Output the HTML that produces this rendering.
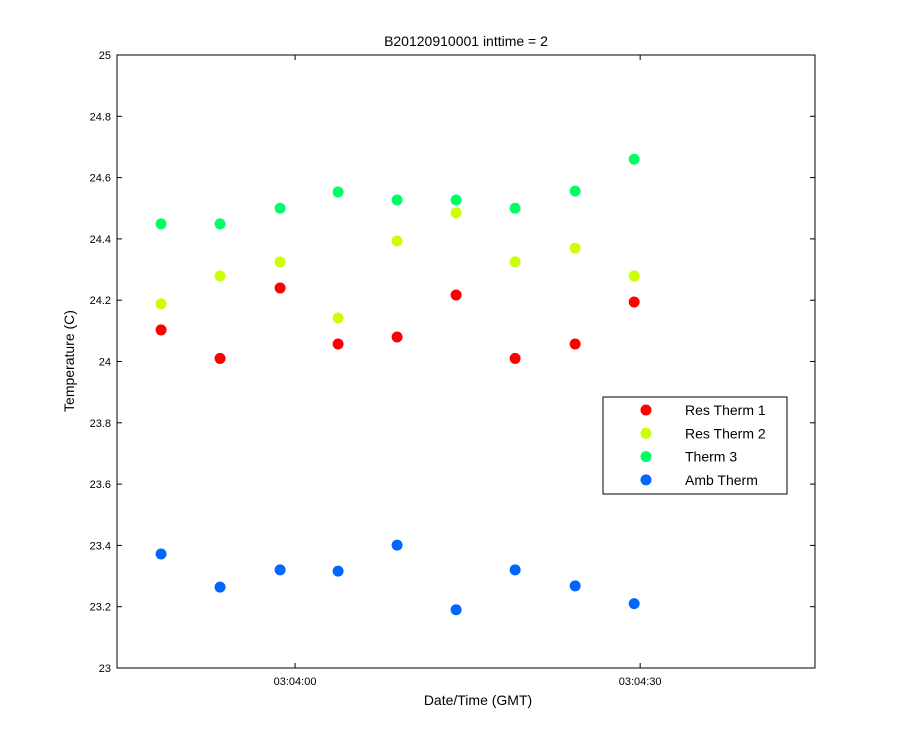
<!DOCTYPE html>
<html><head><meta charset="utf-8"><style>
body{margin:0;background:#fff;}
svg{display:block;font-family:"Liberation Sans",Arial,sans-serif;}
</style></head><body>
<svg id="chart" width="900" height="750" viewBox="0 0 900 750">
<rect x="0" y="0" width="900" height="750" fill="#fff"/>
</svg>
<script>
const times = [-11.65, -6.52, -1.3, 3.74, 8.87, 14.0, 19.13, 24.35, 29.48];
const resTherm1 = [24.103, 24.01, 24.24, 24.057, 24.08, 24.217, 24.01, 24.057, 24.194];
const resTherm2 = [24.188, 24.279, 24.325, 24.142, 24.393, 24.485, 24.325, 24.37, 24.279];
const therm3 = [24.449, 24.449, 24.50, 24.553, 24.527, 24.527, 24.50, 24.556, 24.66];
const ambTherm = [23.372, 23.264, 23.32, 23.316, 23.401, 23.19, 23.32, 23.268, 23.21];
const yTicks = [23, 23.2, 23.4, 23.6, 23.8, 24, 24.2, 24.4, 24.6, 24.8, 25];
const yTickLabels = ["23","23.2","23.4","23.6","23.8","24","24.2","24.4","24.6","24.8","25"];
const xTicks = [0, 30];
const xTickLabels = ["03:04:00","03:04:30"];
const seriesNames = ["Res Therm 1","Res Therm 2","Therm 3","Amb Therm"];

const svg = document.getElementById('chart');
const NS = 'http://www.w3.org/2000/svg';
const L=117,R=815,T=55,B=668, xMin=-15.48,xMax=45.2,yMin=23,yMax=25;
const xs = t => L + (t-xMin)/(xMax-xMin)*(R-L);
const ys = v => B - (v-yMin)/(yMax-yMin)*(B-T);
function mk(tag, attrs, text){const e=document.createElementNS(NS,tag);for(const k in attrs)e.setAttribute(k,attrs[k]);if(text!==undefined)e.textContent=text;svg.appendChild(e);return e;}

let e = mk('rect',{x:L,y:T,width:R-L,height:B-T,fill:'#fff',stroke:'#000','stroke-width':1});



yTicks.forEach((v,i)=>{
  const y=ys(v);
  let t=mk('line',{x1:L,x2:L+5,y1:y,y2:y,stroke:'#000'});
  
  
  t=mk('line',{x1:R,x2:R-5,y1:y,y2:y,stroke:'#000'});
  
  
  t=mk('text',{x:L-6,y:y+4,'text-anchor':'end','font-size':11},yTickLabels[i]);
  
  
});
xTicks.forEach((v,i)=>{
  const x=xs(v);
  let t=mk('line',{x1:x,x2:x,y1:B,y2:B-5,stroke:'#000'});
  
  
  t=mk('line',{x1:x,x2:x,y1:T,y2:T+5,stroke:'#000'});
  
  
  t=mk('text',{x:x,y:B+17,'text-anchor':'middle','font-size':11},xTickLabels[i]);
  
  
});

e=mk('text',{x:466,y:46,'text-anchor':'middle','font-size':14},'B20120910001 inttime = 2');


e=mk('text',{x:478,y:705,'text-anchor':'middle','font-size':14},'Date/Time (GMT)');


e=mk('text',{x:74,y:361,'text-anchor':'middle','font-size':14,transform:'rotate(-90 74 361)'},'Temperature (C)');



const allSeries=[resTherm1,resTherm2,therm3,ambTherm];
const colors=['#ff0000','#ccff00','#00ff66','#0066ff'];
allSeries.forEach((s,si)=>{
  s.forEach((v,i)=>{
    const c=mk('circle',{cx:xs(times[i]),cy:ys(v),r:5.5,fill:colors[si]});
    
    
  });
});

e=mk('rect',{x:603,y:397,width:184,height:97,fill:'#fff',stroke:'#000'});


seriesNames.forEach((n,i)=>{
  const y=410+i*23.3;
  let c=mk('circle',{cx:646,cy:y,r:5.5,fill:colors[i]});
  
  
  c=mk('text',{x:685,y:y+5,'font-size':14},n);
  
  
});
</script>
</body></html>
